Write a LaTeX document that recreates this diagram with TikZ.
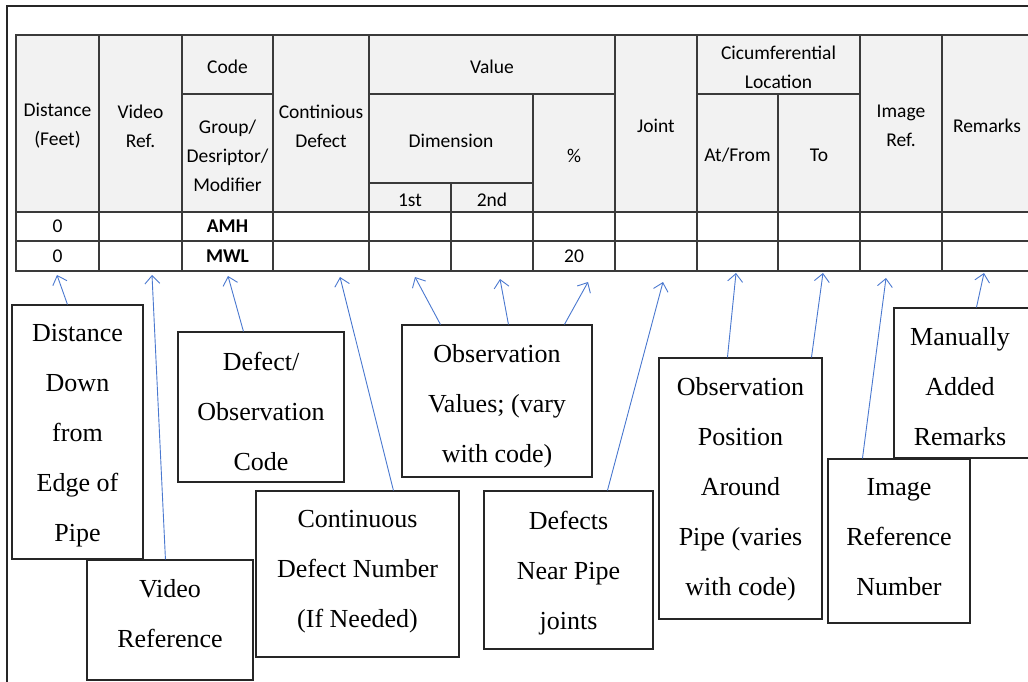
\documentclass[tikz,border=0pt]{standalone}
\usepackage{fontspec}
\setmainfont{Liberation Serif}
\newfontfamily\calibri{Carlito}
\usetikzlibrary{arrows.meta}

\definecolor{hdrgray}{HTML}{F2F2F2}
\definecolor{gridline}{HTML}{3A3A3A}
\definecolor{callblue}{HTML}{4A78CF}

\tikzset{
  frameline/.style={draw=black!85, line width=1.3pt},
  hcell/.style={draw=gridline, line width=1.1pt, fill=hdrgray, inner sep=0pt},
  htext/.style={inner sep=0pt, align=center,
    font=\calibri\fontsize{19.5}{29}\selectfont},
  dcell/.style={draw=gridline, line width=1.1pt, fill=white, inner sep=0pt,
    align=center, font=\calibri\fontsize{19.5}{29}\selectfont},
  cbox/.style={draw=black!85, line width=1.1pt, fill=white, inner sep=0pt},
  ctext/.style={anchor=north, inner sep=0pt, align=center,
    font=\fontsize{26}{50}\selectfont},
  callout/.style={draw=callblue, line width=0.9pt,
    -{Straight Barb[length=8pt,width=15pt]}},
}

% header cell: name, x1, y1, x2, y2, text
\newcommand\hdrcell[6]{%
  \node[hcell, minimum width={#4-#2}, minimum height={#5-#3}]
    (#1) at ({(#2+#4)/2},{(#3+#5)/2}) {};
  \node[htext] (#1-t) at ({(#2+#4)/2},{(#3+#5)/2+2.5}) {#6};}

% callout box: name, x1, y1, x2, y2, text x, text
\newcommand\notebox[7]{%
  \node[cbox, minimum width={#4-#2}, minimum height={#5-#3}]
    (#1) at ({(#2+#4)/2},{(#3+#5)/2}) {};
  \node[ctext] (#1-t) at (#6,{#3+19.5}) {#7};}

\begin{document}
\begin{tikzpicture}[x=1pt,y=-1pt]
\useasboundingbox (0,0) rectangle (1028,681);

% page frame
\draw[frameline] (1030,6) -- (7,6) -- (7,683);

% ---- header of the inspection table ----
\hdrcell{dist}{16}{35}{99}{212}{Distance\\(Feet)}
\hdrcell{video}{99}{35}{182}{212}{Video\\Ref.}
\hdrcell{code}{182}{35}{273}{94}{Code}
\hdrcell{grp}{182}{94}{273}{212}{Group/\\Desriptor/\\Modifier}
\hdrcell{cont}{273}{35}{369}{212}{Continious\\Defect}
\hdrcell{value}{369}{35}{615}{94}{Value}
\hdrcell{dim}{369}{94}{533}{183}{Dimension}
\hdrcell{first}{369}{183}{451}{212}{1st}
\hdrcell{second}{451}{183}{533}{212}{2nd}
\hdrcell{pct}{533}{94}{615}{212}{\%}
\hdrcell{joint}{615}{35}{697}{212}{Joint}
\hdrcell{circ}{697}{35}{860}{94}{Cicumferential\\Location}
\hdrcell{atfrom}{697}{94}{778}{212}{At/From}
\hdrcell{to}{778}{94}{860}{212}{To}
\hdrcell{img}{860}{35}{942}{212}{Image\\Ref.}
\hdrcell{rem}{942}{35}{1032}{212}{Remarks}

% ---- data rows ----
\foreach \xa/\xb/\ta/\tb [count=\i] in {
    16/99/0/0, 99/182//, 182/273/\textbf{AMH}/\textbf{MWL}, 273/369//,
    369/451//, 451/533//, 533/615//20, 615/697//, 697/778//, 778/860//,
    860/942//, 942/1032//}{
  \node[dcell, minimum width={\xb-\xa}, minimum height=29]
    (ra\i) at ({(\xa+\xb)/2},226.5) {\ta};
  \node[dcell, minimum width={\xb-\xa}, minimum height=30]
    (rb\i) at ({(\xa+\xb)/2},256) {\tb};
}

% ---- explanatory boxes ----
\notebox{ndist}{12}{305}{143}{559}{77.5}{Distance\\Down\\from\\Edge of\\Pipe}
\notebox{nvideo}{87}{560}{253}{680}{170}{Video\\Reference}
\notebox{ncode}{178}{332}{344}{482}{261}{Defect/\\Observation\\Code}
\notebox{ncont}{256}{491}{459}{657}{357.5}{Continuous\\Defect Number\\(If Needed)}
\notebox{nval}{402}{325}{592}{477}{497}{Observation\\Values; (vary\\with code)}
\notebox{njoint}{484}{491}{653}{649}{568.5}{Defects\\Near Pipe\\joints}
\notebox{npos}{659}{358}{822}{619}{740.5}{Observation\\Position\\Around\\Pipe (varies\\with code)}
\notebox{nimg}{828}{459}{970}{623}{899}{Image\\Reference\\Number}
\notebox{nrem}{894}{308}{1040}{458}{960}{Manually\\Added\\Remarks}

% ---- arrow targets just below the table ----
\coordinate (pDist)   at (57,275);
\coordinate (pVideo)  at (152,275);
\coordinate (pCode)   at (228,276);
\coordinate (pCont)   at (340,277);
\coordinate (pFirst)  at (415,277);
\coordinate (pSecond) at (500,279);
\coordinate (pPct)    at (588,282);
\coordinate (pJoint)  at (663,282);
\coordinate (pAt)     at (736,273);
\coordinate (pTo)     at (823,273);
\coordinate (pImg)    at (886,278);
\coordinate (pRem)    at (984,273);

% ---- callout arrows ----
\draw[callout] ([xshift=56pt]ndist.north west)   -- (pDist);
\draw[callout] ([xshift=79pt]nvideo.north west)  -- (pVideo);
\draw[callout] ([xshift=66pt]ncode.north west)   -- (pCode);
\draw[callout] ([xshift=138pt]ncont.north west)  -- (pCont);
\draw[callout] ([xshift=39pt]nval.north west)    -- (pFirst);
\draw[callout] ([xshift=107pt]nval.north west)   -- (pSecond);
\draw[callout] ([xshift=163pt]nval.north west)   -- (pPct);
\draw[callout] ([xshift=124pt]njoint.north west) -- (pJoint);
\draw[callout] ([xshift=69pt]npos.north west)    -- (pAt);
\draw[callout] ([xshift=153pt]npos.north west)   -- (pTo);
\draw[callout] ([xshift=35pt]nimg.north west)    -- (pImg);
\draw[callout] ([xshift=83pt]nrem.north west)    -- (pRem);
\end{tikzpicture}
\end{document}
